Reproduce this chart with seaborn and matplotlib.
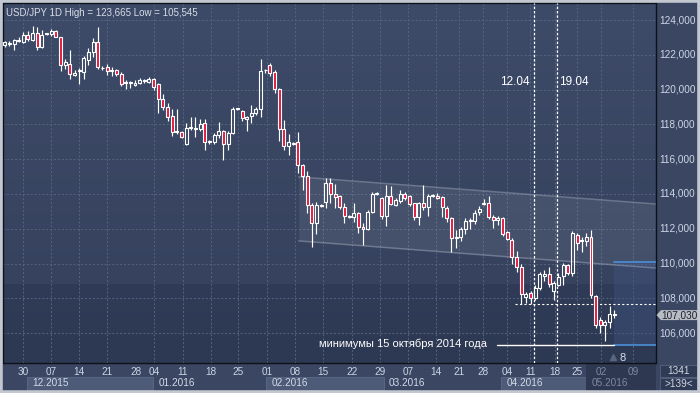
import matplotlib
matplotlib.use("Agg")
import matplotlib.pyplot as plt
import matplotlib.transforms as mtransforms
from matplotlib.patches import Rectangle, Polygon
import numpy as np
import pandas as pd
import seaborn as sns

# daily USD/JPY candles
opens = [122.55, 122.65, 122.62, 122.82, 122.74, 123.12, 122.85, 123.25, 122.47, 123.18,
         123.18, 123.35, 123.00, 121.43, 121.50, 120.86, 121.05, 121.03, 121.70, 122.16,
         122.74, 121.22, 121.32, 121.05, 121.10, 120.90, 120.38, 120.40, 120.27, 120.40,
         120.50, 120.45, 120.60, 120.32, 119.44, 119.02, 118.48, 117.55, 117.55, 116.86,
         117.78, 117.72, 117.72, 118.06, 117.00, 116.97, 117.39, 117.62, 116.87, 117.49,
         118.87, 118.77, 118.33, 118.48, 118.64, 118.87, 121.10, 121.41, 121.00, 120.02,
         117.72, 116.78, 116.90, 116.97, 115.67, 115.03, 113.37, 112.35, 113.33, 113.56,
         114.61, 113.98, 113.89, 113.24, 112.70, 112.66, 112.89, 112.09, 111.97, 112.98,
         114.00, 113.75, 112.74, 113.89, 113.37, 113.61, 114.00, 113.89, 113.47, 112.66,
         113.47, 113.24, 113.88, 113.90, 113.81, 113.21, 112.60, 111.45, 111.55, 112.00,
         112.43, 112.45, 112.95, 113.45, 113.47, 112.70, 112.50, 112.60, 111.80, 111.36,
         110.40, 109.82, 108.10, 108.29, 108.00, 108.58, 109.30, 109.40, 108.44, 108.77,
         109.29, 109.92, 109.48, 111.64, 111.30, 111.32, 111.51, 108.14, 106.76, 106.47,
         106.66, 107.03]
highs = [122.80, 122.80, 122.90, 123.00, 123.31, 123.35, 123.665, 123.60, 123.40, 123.25,
         123.47, 123.40, 123.05, 121.75, 122.27, 121.10, 121.25, 121.95, 122.40, 122.95,
         123.60, 121.35, 121.45, 121.30, 121.20, 121.00, 120.55, 120.50, 120.55, 120.67,
         120.60, 120.70, 120.65, 120.40, 119.75, 119.25, 118.90, 118.87, 117.60, 118.06,
         118.40, 118.41, 118.30, 118.30, 117.10, 117.50, 118.16, 117.70, 117.60, 118.98,
         118.95, 118.85, 118.50, 119.10, 119.00, 121.74, 121.20, 121.55, 121.10, 120.10,
         118.25, 117.45, 117.00, 117.58, 115.75, 115.34, 113.50, 113.55, 113.45, 114.90,
         114.90, 114.60, 113.95, 113.47, 112.80, 113.47, 112.95, 112.35, 113.08, 114.10,
         114.10, 113.80, 114.53, 114.45, 113.75, 114.23, 114.10, 113.95, 113.50, 113.55,
         114.52, 114.00, 114.00, 114.05, 113.90, 113.30, 112.70, 111.90, 112.10, 112.60,
         112.60, 113.08, 113.33, 113.71, 113.89, 112.80, 112.75, 112.65, 111.85, 111.45,
         110.70, 109.95, 108.35, 108.40, 108.75, 109.54, 109.63, 109.79, 109.00, 109.45,
         110.05, 110.00, 111.85, 111.75, 111.50, 111.74, 111.93, 108.20, 106.90, 106.75,
         107.56, 107.30]
lows = [122.45, 122.50, 122.30, 122.75, 122.66, 122.80, 122.80, 122.30, 122.40, 123.15,
        123.10, 123.00, 121.09, 121.20, 120.60, 120.80, 120.35, 120.60, 121.40, 121.90,
        121.20, 121.10, 120.85, 120.80, 120.80, 120.20, 120.05, 120.10, 120.20, 120.30,
        120.40, 120.40, 120.00, 118.67, 118.85, 118.20, 117.33, 117.45, 117.20, 116.80,
        117.70, 117.30, 117.60, 116.53, 116.90, 116.90, 117.20, 115.95, 116.50, 117.45,
        118.80, 118.20, 117.64, 118.06, 118.55, 118.44, 120.95, 120.80, 119.79, 117.06,
        116.50, 116.24, 116.80, 115.19, 114.23, 112.89, 110.97, 111.68, 113.25, 113.20,
        113.50, 113.20, 113.12, 112.35, 112.60, 112.41, 111.78, 111.07, 111.90, 112.90,
        113.95, 112.55, 112.16, 113.35, 113.30, 113.50, 113.65, 113.30, 112.51, 112.20,
        113.10, 112.74, 113.85, 113.70, 112.70, 112.40, 110.69, 110.88, 111.30, 111.70,
        112.00, 112.30, 112.80, 113.35, 112.55, 112.03, 112.20, 111.60, 111.35, 109.96,
        109.50, 107.66, 107.72, 107.70, 107.90, 108.50, 109.00, 108.64, 107.91, 108.70,
        108.77, 109.35, 109.30, 110.78, 110.69, 111.00, 108.00, 106.30, 105.99, 105.545,
        106.30, 106.85]
closes = [122.72, 122.70, 122.85, 122.88, 123.12, 122.89, 123.25, 122.45, 123.16, 123.20,
          123.38, 123.04, 121.42, 121.60, 120.90, 120.98, 121.12, 121.80, 122.18, 122.74,
          121.28, 121.27, 121.09, 121.10, 120.90, 120.32, 120.42, 120.42, 120.40, 120.55,
          120.52, 120.60, 120.13, 119.44, 119.00, 118.44, 117.58, 117.60, 117.26, 117.81,
          117.82, 117.76, 118.02, 117.00, 117.05, 117.39, 117.62, 116.87, 117.49, 118.89,
          118.90, 118.35, 118.44, 118.64, 118.87, 121.09, 121.15, 120.97, 120.02, 117.72,
          116.78, 116.97, 116.93, 115.67, 115.03, 113.35, 112.35, 113.35, 113.38, 114.61,
          114.00, 113.85, 113.24, 112.74, 112.72, 112.89, 112.09, 111.97, 112.98, 114.00,
          114.05, 112.74, 113.89, 113.43, 113.66, 114.00, 113.75, 113.41, 112.66, 113.47,
          113.24, 113.89, 113.92, 113.78, 113.24, 112.60, 111.45, 111.55, 112.00, 112.45,
          112.47, 112.93, 113.14, 113.50, 112.70, 112.51, 112.60, 111.68, 111.41, 110.40,
          109.82, 108.24, 108.25, 108.00, 108.58, 109.40, 109.40, 108.83, 108.87, 109.25,
          109.92, 109.48, 111.78, 111.20, 111.35, 111.51, 108.20, 106.47, 106.45, 106.66,
          107.09, 107.03]

price_ticks = [106, 108, 110, 112, 114, 116, 118, 120, 122, 124]
price_tick_labels = ['106,000', '108,000', '110,000', '112,000', '114,000',
                     '116,000', '118,000', '120,000', '122,000', '124,000']
day_labels = ['30', '07', '14', '21', '28', '04', '11', '18', '25', '01', '08', '15',
              '22', '29', '07', '14', '21', '28', '04', '11', '18', '25', '02', '09']
day_idx = [3.9, 10.0, 16.0, 22.0, 28.2, 32.1, 38.3, 44.3, 50.1, 56.4, 62.4, 68.4,
           74.6, 80.7, 86.7, 92.7, 97.6, 102.8, 108.0, 112.9, 118.3, 123.0, 128.2, 135.0]
month_labels = ['12.2015', '01.2016', '02.2016', '03.2016', '04.2016', '05.2016']
month_idx = [4.8, 31.9, 56.2, 81.5, 106.7, 125.0]

channel_x = [63.2, 139.97]
channel_upper = [114.98, 113.42]
channel_lower = [111.30, 109.74]

week_marks = ['12.04', '19.04']
week_mark_idx = [113.8, 118.8]

title = 'USD/JPY 1D High = 123,665 Low = 105,545'
last_price = 107.03
last_price_label = '107,030'
support_level = 105.31
support_text = 'минимумы 15 октября 2014 года'
level_dash = 107.66
box_top = 110.07

W, H = 700, 393
BG = '#3a4662'
RED = '#e3173e'
GRID = '#56647f'

sns.set_theme(style='dark', rc={'figure.facecolor': BG, 'axes.facecolor': BG})
plt.rcParams['font.family'] = ['Liberation Sans', 'DejaVu Sans']

fig = plt.figure(figsize=(7.0, 3.93), dpi=100)
ax = fig.add_axes([3 / W, 30 / H, 653 / W, 360 / H])
x_lo, x_hi = -0.37, 139.97
y_lo, y_hi = 104.28, 124.98

# background gradient
f = np.linspace(0, 1, 200)
c_bot0, c_bot1 = np.array([45, 56, 82]), np.array([48, 59, 87])
c_top0, c_top1 = np.array([54, 66, 94]), np.array([62, 75, 104])
split = 0.217
cols = np.where(f[:, None] < split,
                c_bot0 + (c_bot1 - c_bot0) * (f[:, None] / split),
                c_top0 + (c_top1 - c_top0) * ((f[:, None] - split) / (1 - split)))
ax.imshow(cols[::-1, None, :] / 255.0, extent=[0, 1, 0, 1], transform=ax.transAxes,
          aspect='auto', zorder=0, interpolation='nearest')

# grid
for p in price_ticks:
    ax.axhline(p, color=GRID, lw=0.7, dashes=(2, 2), zorder=1)
for k, d in enumerate(day_idx):
    if k == 4:  # no grid line under the 28 Dec label
        continue
    ax.axvline(d, color=GRID, lw=0.7, dashes=(2, 2), zorder=1)

# channel
ax.fill_between(channel_x, channel_lower, channel_upper, color='white', alpha=0.07,
                lw=0, zorder=1.5)
sns.lineplot(x=channel_x, y=channel_upper, ax=ax, color='#9aa3b5', lw=1.1, alpha=0.5, zorder=2)
sns.lineplot(x=channel_x, y=channel_lower, ax=ax, color='#9aa3b5', lw=1.1, alpha=0.5, zorder=2)

# projection box on the right
box_left = len(opens) - 1.05
ax.add_patch(Rectangle((box_left, support_level), x_hi - box_left, box_top - support_level,
                       facecolor='#3e5480', alpha=0.45, lw=0, zorder=1.6))
ax.plot([box_left, x_hi], [box_top, box_top], color='#4a8fd8', lw=1.2, zorder=3)
ax.plot([box_left, x_hi], [support_level, support_level], color='#4a8fd8', lw=1.2, zorder=3)

# support line + text
ax.plot([105.8, box_left], [support_level, support_level], color='white', lw=1.0, zorder=3)
ax.text(103.7, support_level + 0.05, support_text, color='white', fontsize=8,
        ha='right', va='center', zorder=5)

# dashed level
ax.plot([109.7, x_hi], [level_dash, level_dash], color='white', lw=0.8, dashes=(2, 2), zorder=3)

# week markers
for lab, xi in zip(week_marks, week_mark_idx):
    ax.axvline(xi, color='white', lw=0.9, dashes=(2, 1.5), zorder=3)
ax.text(week_mark_idx[0] - 0.9, 120.46, week_marks[0], color='white', fontsize=8.5,
        ha='right', va='center')
ax.text(week_mark_idx[1] + 0.3, 120.46, week_marks[1], color='white', fontsize=8.5,
        ha='left', va='center')

# candles
df = pd.DataFrame({'open': opens, 'high': highs, 'low': lows, 'close': closes})
df['idx'] = np.arange(len(df))
df['top'] = df[['open', 'close']].max(axis=1)
df['bot'] = df[['open', 'close']].min(axis=1)
df['bull'] = df['close'] >= df['open']
ax.vlines(df['idx'], df['low'], df['bot'], color='white', lw=0.85, zorder=4)
ax.vlines(df['idx'], df['top'], df['high'], color='white', lw=0.85, zorder=4)
face = [(0, 0, 0, 0) if b else RED for b in df['bull']]
ax.bar(df['idx'], (df['top'] - df['bot']).clip(lower=0.05), bottom=df['bot'], width=0.64,
       color=face, edgecolor='white', linewidth=0.8, zorder=4.5)

# little marker under the last candles
ax.plot([130.8], [104.62], marker='^', color='#5a6680', ms=5, zorder=3)
ax.text(132.7, 104.55, '8', color='#d8dde8', fontsize=8, ha='center', va='center')

ax.text(0.004, 0.985, title, transform=ax.transAxes, color='#d7dce6', fontsize=7,
        ha='left', va='top')

ax.set_xlim(x_lo, x_hi)
ax.set_ylim(y_lo, y_hi)
ax.set_xticks([])
ax.set_yticks([])
for s in ax.spines.values():
    s.set_color('#0d1118')
    s.set_linewidth(1.0)

# right price scale
for p, lab in zip(price_ticks, price_tick_labels):
    ax.text(1.005, p, lab, transform=ax.get_yaxis_transform(), color='#cfd7e6',
            fontsize=7.2, ha='left', va='center', clip_on=False)

# last price tag
def fx(px):
    return px / W

def fy(py):
    return 1 - py / H

yl = 20 + (124 - last_price) * 17.39
tag = Polygon([(fx(656.5), fy(yl)), (fx(661), fy(yl - 5)), (fx(699), fy(yl - 5)),
               (fx(699), fy(yl + 5)), (fx(661), fy(yl + 5))],
              closed=True, transform=fig.transFigure, facecolor='#b7bcc5', edgecolor='none')
fig.patches.append(tag)
fig.text(fx(679.5), fy(yl), last_price_label, color='#1c2230', fontsize=7.2,
         ha='center', va='center')

# bottom date strip
blend = mtransforms.blended_transform_factory(ax.transData, fig.transFigure)
month_ends = month_idx[1:] + [x_hi]
for k, (lab, m0, m1) in enumerate(zip(month_labels, month_idx, month_ends)):
    if k in (0, 2, 4):
        ax.add_patch(Rectangle((m0, fy(390)), m1 - m0, fy(377) - fy(390), transform=blend,
                               facecolor='#4d5a78', edgecolor='#5e6b88', lw=0.6,
                               clip_on=False, zorder=0))
    if k == 5:
        ax.add_patch(Rectangle((m0, fy(391)), m1 - m0, fy(364) - fy(391), transform=blend,
                               facecolor='#2e3851', edgecolor='none',
                               clip_on=False, zorder=0))
    ax.text(m0 + 1.1, fy(383), lab, transform=blend, color='#7e899f' if k == 5 else '#d3dae8',
            fontsize=7.2, ha='left', va='center', clip_on=False)

for lab, d in zip(day_labels, day_idx):
    ax.text(d, fy(372), lab, transform=blend, color='#7e899f' if d > month_idx[-1] else '#cdd5e5',
            fontsize=7.2, ha='center', va='center', clip_on=False)

# bottom-right counters
for py0, py1, txt in [(365, 377, '1341'), (378, 390, '>139<')]:
    fig.patches.append(Rectangle((fx(660), fy(py1)), fx(697) - fx(660), fy(py0) - fy(py1),
                                 transform=fig.transFigure, facecolor='#2f3a54',
                                 edgecolor='#56627e', lw=0.6))
    fig.text(fx(678.5), fy((py0 + py1) / 2), txt, color='#d0d6e2', fontsize=7.2,
             ha='center', va='center')

# outer frame
fig.patches.append(Rectangle((0, 0), 1, 1, transform=fig.transFigure, fill=False,
                             edgecolor='#c3c8d0', lw=4))

fig.savefig('out.png', dpi=100, facecolor=BG)
